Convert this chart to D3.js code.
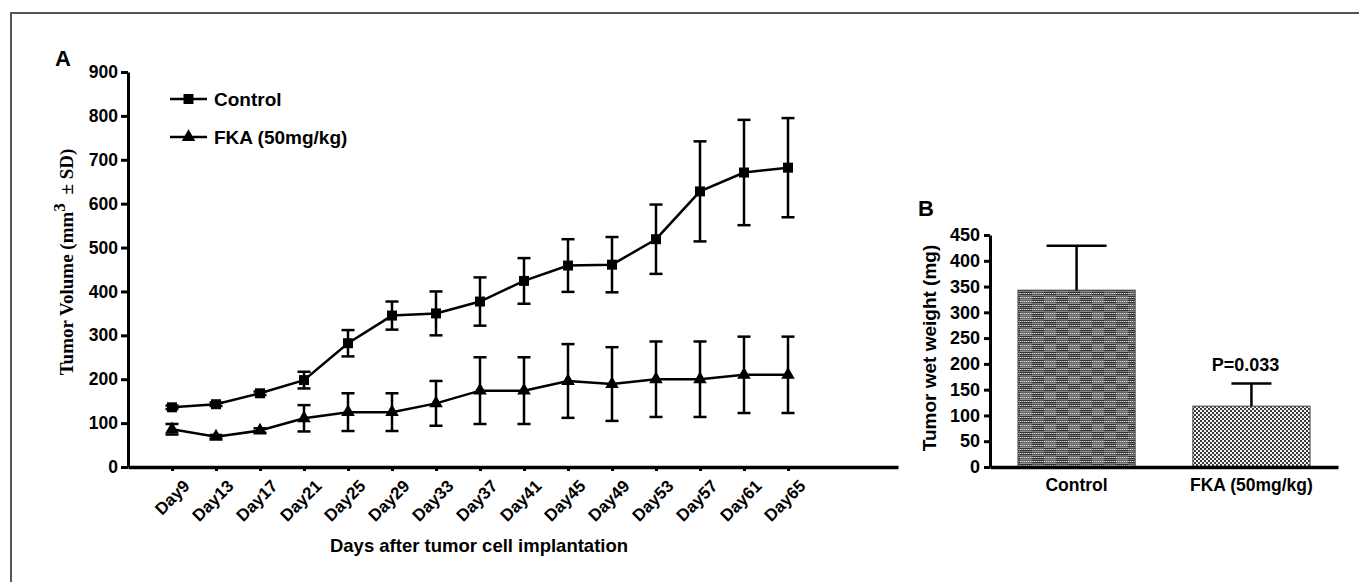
<!DOCTYPE html>
<html>
<head>
<meta charset="utf-8">
<script src="https://cdn.jsdelivr.net/npm/d3@7"></script>
<style>
  body { margin: 0; background: #fff; }
  svg text { font-family: "Liberation Sans", Arial, sans-serif; font-weight: bold; fill: #000; }
  .axis path, .axis line { stroke: #000; }
</style>
</head>
<body>
<svg id="chart" width="1359" height="582"></svg>
<script>
// panel A data
const days        = [9, 13, 17, 21, 25, 29, 33, 37, 41, 45, 49, 53, 57, 61, 65];
const controlMean = [136, 143, 168, 198, 282, 345, 350, 377, 424, 459, 461, 519, 628, 671, 682];
const controlSD   = [4, 4, 4, 19, 30, 32, 50, 55, 52, 60, 63, 79, 114, 120, 113];
const fkaMean     = [86, 69, 83, 111, 125, 125, 145, 174, 174, 196, 189, 200, 200, 210, 210];
const fkaSD       = [12, 4, 5, 30, 43, 43, 51, 76, 76, 84, 84, 86, 86, 87, 87];
const volumeTicks = [0, 100, 200, 300, 400, 500, 600, 700, 800, 900];

// panel B data
const groups      = ['Control', 'FKA (50mg/kg)'];
const wetWeight   = [343, 118];
const wetWeightSD = [86, 44];
const weightTicks = [0, 50, 100, 150, 200, 250, 300, 350, 400, 450];

const svg = d3.select('#chart');

// frame (top + left edge only, the rest is cropped)
svg.append('path')
  .attr('d', 'M11,582 V13 H1359')
  .attr('fill', 'none')
  .attr('stroke', '#555')
  .attr('stroke-width', 2);

// ---------- panel A ----------
const xA = d3.scaleLinear().domain([5, 75]).range([128, 898]);
const yA = d3.scaleLinear().domain([0, 900]).range([467, 72]);

const yAxisA = svg.append('g').attr('class', 'axis')
  .attr('transform', `translate(${xA.range()[0]},0)`)
  .call(d3.axisLeft(yA).tickValues(volumeTicks).tickSize(7).tickSizeOuter(0).tickPadding(3));
yAxisA.select('.domain').attr('stroke-width', 3);
yAxisA.selectAll('.tick line').attr('stroke-width', 3);
yAxisA.selectAll('.tick text').attr('font-size', 17.5);

const xAxisA = svg.append('g').attr('class', 'axis')
  .attr('transform', `translate(0,${yA(0)})`)
  .call(d3.axisBottom(xA).tickValues(days).tickSize(4).tickSizeOuter(0).tickFormat(d => 'Day' + d));
xAxisA.select('.domain').attr('stroke-width', 3.5);
xAxisA.selectAll('.tick line').attr('stroke-width', 3);
xAxisA.selectAll('.tick text')
  .attr('font-size', 17)
  .attr('text-anchor', 'end')
  .attr('dy', '0.35em')
  .attr('transform', 'translate(9,11) rotate(-45)');

svg.append('text')
  .attr('x', 55).attr('y', 66)
  .attr('font-size', 22)
  .text('A');

const yLabelA = svg.append('text')
  .attr('transform', 'translate(73,262) rotate(-90)')
  .attr('text-anchor', 'middle')
  .attr('font-size', 19)
  .style('font-family', '"Liberation Serif", "Times New Roman", serif');
yLabelA.append('tspan').text('Tumor Volume (mm');
yLabelA.append('tspan').attr('dy', -8).attr('font-size', 17).text('3');
yLabelA.append('tspan').attr('dy', 8).attr('dx', 4).text(' \u00b1 SD)');

svg.append('text')
  .attr('x', 479).attr('y', 552)
  .attr('text-anchor', 'middle')
  .attr('font-size', 18.5)
  .text('Days after tumor cell implantation');

const seriesA = [
  {name: 'Control',       mean: controlMean, sd: controlSD, symbol: d3.symbolSquare,   size: 100},
  {name: 'FKA (50mg/kg)', mean: fkaMean,     sd: fkaSD,     symbol: d3.symbolTriangle, size: 80},
];

const line = d3.line().x(d => xA(d.day)).y(d => yA(d.mean));

seriesA.forEach((s, si) => {
  const pts = days.map((day, i) => ({day, mean: s.mean[i], sd: s.sd[i]}));
  const g   = svg.append('g');

  const err = g.selectAll('g.err').data(pts).join('g').attr('class', 'err')
    .attr('stroke', '#000').attr('stroke-width', 2.5);
  err.append('line')
    .attr('x1', d => xA(d.day)).attr('x2', d => xA(d.day))
    .attr('y1', d => yA(d.mean + d.sd)).attr('y2', d => yA(d.mean - d.sd));
  err.append('line')
    .attr('x1', d => xA(d.day) - 6.5).attr('x2', d => xA(d.day) + 6.5)
    .attr('y1', d => yA(d.mean + d.sd)).attr('y2', d => yA(d.mean + d.sd));
  err.append('line')
    .attr('x1', d => xA(d.day) - 6.5).attr('x2', d => xA(d.day) + 6.5)
    .attr('y1', d => yA(d.mean - d.sd)).attr('y2', d => yA(d.mean - d.sd));

  g.append('path').datum(pts)
    .attr('d', line)
    .attr('fill', 'none')
    .attr('stroke', '#000')
    .attr('stroke-width', 2.5);

  g.selectAll('path.mark').data(pts).join('path').attr('class', 'mark')
    .attr('transform', d => `translate(${xA(d.day)},${yA(d.mean)})`)
    .attr('d', d3.symbol(s.symbol, s.size))
    .attr('fill', '#000');

  // legend
  const ly = 99 + si * 38;
  const lg = svg.append('g').attr('transform', `translate(170,${ly})`);
  lg.append('line').attr('x1', 0).attr('x2', 37).attr('stroke', '#000').attr('stroke-width', 2.5);
  lg.append('path').attr('transform', 'translate(18.5,0)').attr('d', d3.symbol(s.symbol, s.size)).attr('fill', '#000');
  lg.append('text').attr('x', 44).attr('dy', '0.36em').attr('font-size', 19).text(s.name);
});

// ---------- panel B ----------
const defs = svg.append('defs');

// control bar: dark woven texture
const patCtrl = defs.append('pattern').attr('id', 'patCtrl')
  .attr('patternUnits', 'userSpaceOnUse').attr('width', 24).attr('height', 16);
patCtrl.append('rect').attr('width', 24).attr('height', 16).attr('fill', '#7a7a7a');
for (let yy = 0; yy < 16; yy += 2) {
  patCtrl.append('rect').attr('x', 0).attr('y', yy).attr('width', 24).attr('height', 1).attr('fill', '#303030');
}
for (let xx = 0; xx < 24; xx += 2) {
  for (let yy = 1; yy < 16; yy += 4) {
    patCtrl.append('rect').attr('x', xx).attr('y', yy).attr('width', 1).attr('height', 1).attr('fill', '#e0e0e0');
  }
}
patCtrl.append('rect').attr('x', 12).attr('y', 8).attr('width', 12).attr('height', 8).attr('fill', '#bdbdbd').attr('opacity', 0.35);
patCtrl.append('rect').attr('x', 0).attr('y', 0).attr('width', 12).attr('height', 8).attr('fill', '#bdbdbd').attr('opacity', 0.25);

// treated bar: fine checker
const patFka = defs.append('pattern').attr('id', 'patFka')
  .attr('patternUnits', 'userSpaceOnUse').attr('width', 4).attr('height', 4);
patFka.append('rect').attr('width', 4).attr('height', 4).attr('fill', '#f4f4f4');
patFka.append('rect').attr('x', 0).attr('y', 0).attr('width', 2).attr('height', 2).attr('fill', '#3a3a3a');
patFka.append('rect').attr('x', 2).attr('y', 2).attr('width', 2).attr('height', 2).attr('fill', '#3a3a3a');

const xB = d3.scaleBand().domain(groups).range([990, 1338]).paddingInner(0.33).paddingOuter(0.16);
const yB = d3.scaleLinear().domain([0, 450]).range([467, 235]);
const capHalf = [30, 20];

const barData = groups.map((gname, i) => ({group: gname, value: wetWeight[i], sd: wetWeightSD[i], i}));

svg.selectAll('rect.bar').data(barData).join('rect').attr('class', 'bar')
  .attr('x', d => xB(d.group))
  .attr('y', d => yB(d.value))
  .attr('width', xB.bandwidth())
  .attr('height', d => yB(0) - yB(d.value))
  .attr('fill', d => d.i === 0 ? 'url(#patCtrl)' : 'url(#patFka)')
  .attr('stroke', '#444')
  .attr('stroke-width', 1);

const errB = svg.selectAll('g.errB').data(barData).join('g').attr('class', 'errB')
  .attr('stroke', '#000').attr('stroke-width', 2.5);
errB.append('line')
  .attr('x1', d => xB(d.group) + xB.bandwidth() / 2).attr('x2', d => xB(d.group) + xB.bandwidth() / 2)
  .attr('y1', d => yB(d.value)).attr('y2', d => yB(d.value + d.sd));
errB.append('line')
  .attr('x1', d => xB(d.group) + xB.bandwidth() / 2 - capHalf[d.i])
  .attr('x2', d => xB(d.group) + xB.bandwidth() / 2 + capHalf[d.i])
  .attr('y1', d => yB(d.value + d.sd)).attr('y2', d => yB(d.value + d.sd));

const yAxisB = svg.append('g').attr('class', 'axis')
  .attr('transform', 'translate(990,0)')
  .call(d3.axisLeft(yB).tickValues(weightTicks).tickSize(6).tickSizeOuter(0).tickPadding(4));
yAxisB.select('.domain').attr('stroke-width', 3);
yAxisB.selectAll('.tick line').attr('stroke-width', 3);
yAxisB.selectAll('.tick text').attr('font-size', 18);

const xAxisB = svg.append('g').attr('class', 'axis')
  .attr('transform', `translate(0,${yB(0)})`)
  .call(d3.axisBottom(xB).tickSize(0).tickPadding(12));
xAxisB.select('.domain').attr('stroke-width', 3.5);
xAxisB.selectAll('.tick text').attr('font-size', 17.5);

svg.append('text')
  .attr('x', 918).attr('y', 216)
  .attr('font-size', 22)
  .text('B');

svg.append('text')
  .attr('transform', 'translate(936,348) rotate(-90)')
  .attr('text-anchor', 'middle')
  .attr('font-size', 19)
  .text('Tumor wet weight (mg)');

svg.append('text')
  .attr('x', xB(groups[1]) + xB.bandwidth() / 2 - 6)
  .attr('y', 371)
  .attr('text-anchor', 'middle')
  .attr('font-size', 18)
  .text('P=0.033');
</script>
</body>
</html>
